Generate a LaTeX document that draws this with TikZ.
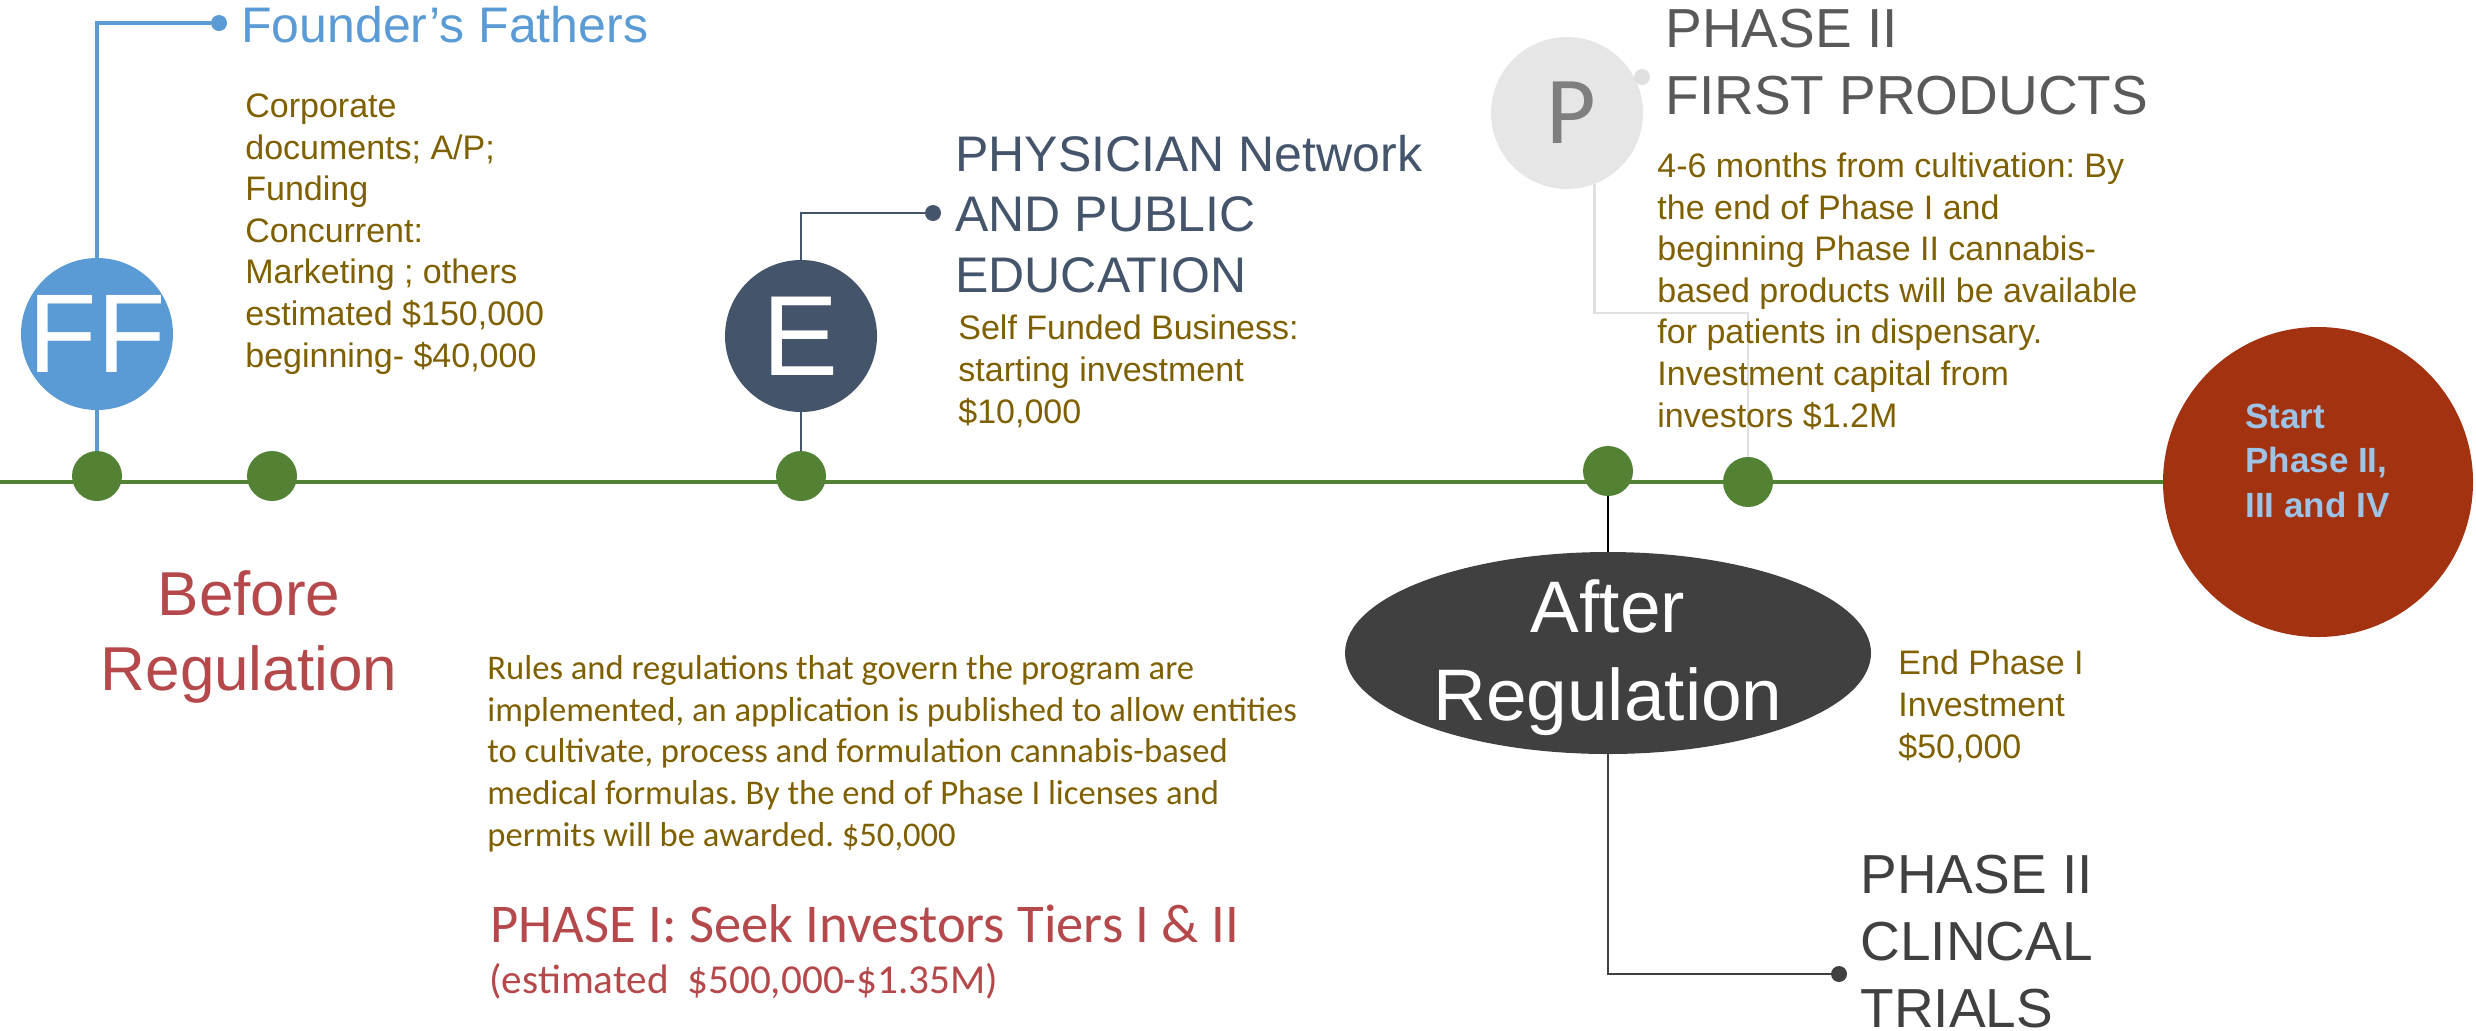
\documentclass[tikz,border=0pt]{standalone}
\usepackage{fontspec}
\setmainfont{Liberation Sans}
\newfontfamily\calib{Carlito}
\usetikzlibrary{shapes.geometric}
\frenchspacing
\definecolor{tlgreen}{HTML}{548235}
\definecolor{ffblue}{HTML}{5B9BD5}
\definecolor{eblue}{HTML}{44546A}
\definecolor{brownt}{HTML}{7F6000}
\definecolor{redt}{HTML}{B5484B}
\definecolor{redcirc}{HTML}{A33211}
\definecolor{pgray}{HTML}{E7E6E6}
\definecolor{pline}{HTML}{E0E0E0}
\definecolor{pletter}{HTML}{7F7F7F}
\definecolor{darkg}{HTML}{404040}
\definecolor{headg}{HTML}{595959}
\definecolor{lightb}{HTML}{9DC3E6}
\begin{document}
\begin{tikzpicture}[x=0.5pt,y=-0.5pt,
  tldot/.style={circle, fill=tlgreen, minimum size=25pt, inner sep=0pt},
  enddot/.style={circle, minimum size=8pt, inner sep=0pt},
  bigcirc/.style={circle, minimum size=76pt, inner sep=0pt},
  txt/.style={inner sep=0pt, anchor=base west, align=left},
  body/.style={txt, text=brownt, font=\fontsize{17}{20.8}\selectfont},
  blueline/.style={draw=ffblue, line width=1.6pt},
  eline/.style={draw=eblue, line width=1.3pt},
  grayline/.style={draw=pline, line width=1.2pt},
  darkline/.style={draw=darkg, line width=1.2pt}]
\useasboundingbox (0,0) rectangle (2476,1030);

% main circle and timeline
\node[circle, fill=redcirc, minimum size=155pt, inner sep=0pt] (rc) at (2318,482) {};
\coordinate (tl0) at (0,482);
\draw[tlgreen, line width=1.8pt] (tl0) -- (rc.west);

% timeline dots
\node[tldot] (d1) at (97,476) {};
\node[tldot] (d2) at (272,476) {};
\node[tldot] (d3) at (801,476) {};
\node[tldot] (d4) at (1608,471) {};
\node[tldot] (d5) at (1748,482) {};

% milestone circles
\node[bigcirc, fill=ffblue, label={[text=white, font=\fontsize{56}{60}\selectfont]center:FF}] (ff) at (97,334) {};
\node[bigcirc, fill=eblue, label={[text=white, font=\fontsize{57}{60}\selectfont]center:E}] (e) at (801,336) {};
\node[bigcirc, fill=pgray, label={[text=pletter, font=\calib\fontsize{48}{50}\selectfont, xshift=2pt]center:P}] (p) at (1567,113) {};
\node[ellipse, fill=darkg, minimum width=263pt, minimum height=101pt, inner sep=0pt] (ar) at (1608,653) {};
% (anchor base = baseline of the last line)
\node[inner sep=0pt, anchor=base, align=center, text=white, font=\fontsize{36.5}{44}\selectfont] (artext) at (1608,720) {After\\Regulation};

% connector end dots
\node[enddot, fill=ffblue] (ffend) at (219,23) {};
\node[enddot, fill=eblue] (eend) at (933,213) {};
\node[enddot, fill=pline] (pdot) at (1642,77) {};
\node[enddot, fill=darkg] (cend) at (1839,974) {};
\coordinate (pbend) at (1748,313);

% connectors
\draw[blueline] (ff.north) |- (ffend.west);
\draw[blueline] (ff.south) -- (d1.north);
\draw[eline] (e.north) |- (eend.west);
\draw[eline] (e.south) -- (d3.north);
\draw[grayline] (p.-69.5) |- (pbend) -- (d5.north);
\draw[black, line width=0.9pt] (d4.south) -- (ar.north);
\draw[darkline] (ar.south) |- (cend.west);

% texts (anchor at baseline of last line)
\node[txt, text=ffblue, font=\fontsize{25}{30}\selectfont] (fftitle) at (241,42) {Founder’s Fathers};
\node[body] (ffbody) at (245,367) {Corporate\\documents; A/P;\\Funding\\Concurrent:\\Marketing ; others\\estimated \$150,000\\beginning- \$40,000};

\node[txt, text=eblue, font=\fontsize{25}{30.25}\selectfont] (etitle) at (955,292) {PHYSICIAN Network\\AND PUBLIC\\EDUCATION};
\node[body] (ebody) at (958,423) {Self Funded Business:\\starting investment\\\$10,000};

\node[txt, text=headg, font=\fontsize{27.5}{33.5}\selectfont] (ptitle) at (1665,114) {PHASE II\\FIRST PRODUCTS};
\node[body] (pbody) at (1657,427) {4-6 months from cultivation: By\\the end of Phase I and\\beginning Phase II cannabis-\\based products will be available\\for patients in dispensary.\\Investment capital from\\investors \$1.2M};

\node[txt, text=lightb, font=\bfseries\fontsize{17.5}{22.25}\selectfont] (rctext) at (2245,517) {Start\\Phase II,\\III and IV};

\node[inner sep=0pt, anchor=base, align=center, text=redt, font=\fontsize{31}{37.5}\selectfont] (before) at (249,690) {Before\\Regulation};

\node[txt, text=brownt, font=\calib\fontsize{17.3}{20.8}\selectfont] (rules) at (487,846) {Rules and regulations that govern the program are\\implemented, an application is published to allow entities\\to cultivate, process and formulation cannabis-based\\medical formulas. By the end of Phase I licenses and\\permits will be awarded. \$50,000};
\node[txt, text=redt, font=\calib\fontsize{27.3}{30}\selectfont] (phase1) at (490,942) {PHASE I: Seek Investors Tiers I \& II};
\node[txt, text=redt, font=\calib\fontsize{20.6}{24}\selectfont] (phase1est) at (489,993) {(estimated\ \ \$500,000-\$1.35M)};

\node[body, font=\fontsize{17}{21}\selectfont] (endp) at (1898,758) {End Phase I\\Investment\\\$50,000};
\node[txt, text=darkg, font=\fontsize{27.5}{33.5}\selectfont] (clin) at (1860,1027) {PHASE II\\CLINCAL\\TRIALS};
\end{tikzpicture}
\end{document}
